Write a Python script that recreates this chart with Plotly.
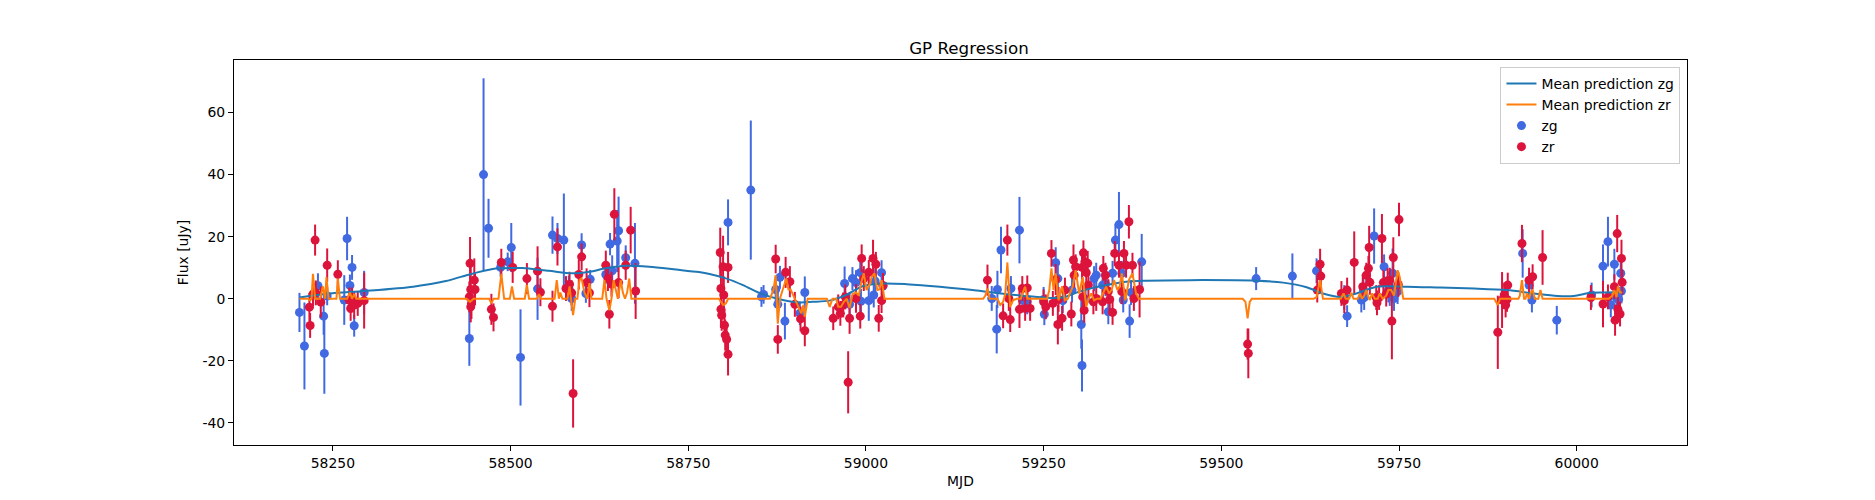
import plotly.graph_objects as go

# ---- observed data: zg band ----
zg_mjd = [58203, 58210, 58229, 58237, 58238, 58242, 58266, 58270, 58274, 58277, 58280, 58294,
          58442, 58462, 58469, 58486, 58496, 58501, 58514, 58538, 58559, 58566, 58575, 58582, 58586,
          58600, 58606, 58612, 58634, 58640, 58643, 58650, 58652, 58662, 58675,
          58806, 58838, 58853, 58856, 58873, 58876, 58879, 58886, 58907, 58914, 58970, 58977, 58981,
          58986, 58992, 58993, 59004, 59011, 59013, 59022, 59024,
          59177, 59184, 59185, 59190, 59204, 59216, 59220, 59227, 59250, 59251, 59267, 59270, 59277,
          59290, 59303, 59304, 59309, 59321, 59324, 59333, 59337, 59341, 59347, 59351, 59356, 59360,
          59362, 59371, 59373, 59388,
          59549, 59600, 59634, 59673, 59677, 59697, 59700, 59701, 59715, 59729, 59735, 59737, 59741,
          59743, 59748,
          59924, 59933, 59937, 59972, 60021, 60037, 60044, 60048, 60053, 60056, 60059, 60062, 60063]
zg_flux = [-4.4, -15.2, 4.2, -5.6, -17.6, 0.9, -0.4, 19.4, 4.3, 10.1, -8.7, 2.0,
           -12.8, 40.0, 22.7, 10.1, 11.9, 16.5, -18.9, 3.2, 20.5, 19.4, 18.9, 3.5, 0.1,
           17.3, 1.7, 6.3, 7.8, 17.6, 9.0, 18.6, 21.9, 13.2, 11.4,
           24.6, 35.0, 0.6, 1.4, 3.0, -1.8, 6.9, -7.2, -4.7, 2.0, 4.9, -1.8, 6.5,
           5.2, 8.4, -0.8, -0.6, 1.2, 5.7, 8.4, 4.1,
           0.1, -9.8, 3.0, 15.7, 3.3, 22.1, -0.4, -1.0, -0.2, -5.0, 11.6, 6.5, -0.6,
           2.8, -8.3, -21.5, -0.2, 6.5, 7.6, 4.4, 4.9, -4.2, 8.2, 18.9, 23.9, 8.2,
           -0.4, -7.2, 2.0, 11.9,
           6.5, 7.3, 9.0, 0.4, -5.6, -0.4, 2.8, 0.4, 20.2, 10.3, 2.8, 1.7, 8.2,
           0.1, 2.3,
           14.6, 4.4, -0.4, -6.9, 1.2, 10.5, 18.4, -2.0, 11.1, 0.1, -0.2, 8.2, 2.5]
zg_err = [6.3, 14, 4, 6, 13, 3, 8, 7, 3.5, 4, 3.5, 7,
          8.8, 31, 9.5, 3, 3, 7.9, 15.5, 10, 6, 5, 15, 4, 4,
          3.8, 3, 3, 3, 3.6, 5, 10, 11, 4, 13,
          7.4, 22.4, 3.2, 3, 4, 4.6, 3.7, 5.9, 3.8, 5.2, 5.5, 4, 3.7,
          4, 4, 4, 6.5, 4, 4, 4, 3,
          4, 7.8, 6, 7.5, 4, 10.7, 4, 4, 4, 3.5, 5, 4, 4,
          4, 7.8, 8.4, 4, 4, 4, 4, 4, 4, 4, 5, 10.5, 4,
          4, 5.4, 4, 9,
          3.7, 7.3, 4, 4, 3.5, 4, 4, 4, 8.9, 4, 4, 4, 8,
          4, 4,
          7.8, 4, 4, 4.6, 4, 7, 8, 4, 5, 4, 4, 4, 4]

# ---- observed data: zr band ----
zr_mjd = [58217, 58218, 58222, 58225, 58226, 58233, 58242, 58257, 58273, 58275, 58277, 58280, 58285, 58294,
          58443, 58444, 58442, 58445, 58444, 58449, 58450, 58473, 58476, 58487, 58503, 58523, 58538,
          58542, 58559, 58566, 58578, 58583, 58586, 58588, 58596, 58600, 58607, 58611, 58634, 58637,
          58639, 58642, 58646, 58652, 58662, 58669, 58676,
          58795, 58799, 58806, 58796, 58800, 58796, 58797, 58801, 58802, 58804, 58806,
          58873, 58876, 58887, 58893, 58900, 58908, 58914, 58954, 58961, 58964, 58968, 58971, 58975,
          58977, 58986, 58992, 58994, 58997, 59004, 59010, 59014, 59018, 59022, 59024,
          59171, 59193, 59199, 59201, 59203, 59216, 59220, 59224, 59227, 59231, 59250, 59253, 59261,
          59263, 59267, 59270, 59271, 59276, 59280, 59289, 59292, 59293, 59295, 59304, 59306, 59308,
          59310, 59312, 59305, 59307, 59313, 59320, 59324, 59333, 59334, 59337, 59341, 59343, 59347,
          59350, 59356, 59360, 59363, 59366, 59370, 59375, 59377, 59385,
          59537, 59538, 59635, 59639, 59640, 59669, 59673, 59677, 59687, 59699, 59704, 59708, 59707,
          59709, 59718, 59719, 59722, 59726, 59728, 59732, 59734, 59737, 59740, 59742, 59749, 59750,
          59889, 59895, 59898, 59900, 59902, 59903, 59923, 59933, 59938, 59952, 60020, 60037, 60044,
          60053, 60054, 60057, 60058, 60061, 60063, 60064]
zr_flux = [-2.7, -8.6, 1.5, 18.9, 1.9, -1.1, 10.8, 7.9, -0.4, -3.1, -0.4, -2.0, -1.5, -0.6,
           11.4, 3.0, 0.6, -1.5, -2.6, 6.0, 3.0, -3.4, -6.0, 11.7, 10.1, 6.5, 8.9,
           2.1, -2.4, 16.7, 3.3, 4.7, 1.9, -30.5, 7.8, 13.5, 5.2, 1.9, 10.8, 6.5,
           -5.0, 4.7, 27.2, 5.2, 10.8, 22.1, 2.5,
           14.9, 10.3, 10.1, 3.3, 1.2, -3.4, -5.3, -8.5, -11.7, -13.1, -17.9,
           12.8, -13.1, 8.5, 5.5, -1.8, -6.5, -10.3, -6.3, -2.6, -4.7, -2.0, 0.6, -26.9,
           -6.3, 0.1, -5.6, 13.0, 6.5, 8.5, 13.0, 11.1, -6.3, -0.6, 4.3,
           6.0, -5.5, 18.9, 0.1, -6.7, -3.4, 3.3, -3.1, 3.5, -3.1, -1.0, -2.6, 14.6,
           -1.5, 6.2, -8.3, -0.2, -6.3, 2.8, -4.9, 12.5, 7.6, 10.3, 10.1, 14.8, 11.9,
           8.4, 11.4, 0.6, -3.7, 4.4, -1.0, 0.1, -1.0, 9.8, 7.6, 2.3, -0.2, -4.4,
           14.6, 10.8, 2.3, 14.6, 10.8, 24.8, 10.8, 0.1, 3.0,
           -14.6, -17.6, 2.8, 11.1, 7.3, 1.7, -0.6, 2.8, 11.7, 3.9, 7.6, 16.5, 9.8,
           5.3, 0.4, -1.3, 0.4, 19.4, 5.2, 1.5, 5.8, 6.0, -7.2, 13.3, 4.6, 25.5,
           -10.8, -0.4, 1.2, -2.0, -0.2, 4.4, 17.8, 6.0, 7.1, 13.3, 0.4, -1.7, 0.6,
           3.9, -6.9, 21.0, -3.4, -4.9, 13.0, 5.3]
zr_err = [4.5, 4, 4, 5, 4, 5, 5.4, 4.5, 4, 4, 4, 4.5, 4, 9,
          8.5, 8, 5, 5, 5, 7, 5, 5, 4.5, 4.4, 5, 5, 8,
          4.5, 5, 6, 4, 4, 4, 11, 4.8, 4.3, 4.6, 4.6, 4.7, 4,
          4.6, 4, 8.4, 5, 4.7, 7.5, 9,
          8, 10, 5, 6, 6, 6, 5, 5, 5, 5, 6.8,
          4.6, 4.6, 5, 5, 4, 4, 5, 3.8, 4, 4, 4, 4, 10,
          5, 4.6, 4, 4.5, 4, 4, 6, 4, 4.3, 4, 4,
          5, 4, 5, 4, 4, 6, 4, 4, 4, 4, 4, 4, 4.3,
          4, 5, 6.4, 4, 4, 4, 4, 5, 4, 4, 4, 4, 4,
          4, 4, 4, 4, 4, 4, 4, 4, 4, 4, 4, 4, 4,
          4, 4, 4, 4, 4, 5.4, 4, 4, 9,
          5, 8, 4, 5, 4, 4, 4, 4, 10, 4, 4, 7, 4,
          4, 4, 4, 4, 7.9, 4, 4, 4, 4, 12.3, 6.5, 4, 5.4,
          11.8, 9, 4, 4, 4, 4, 6, 4, 4, 8.8, 4, 7.5, 4,
          4, 5, 6, 4, 4, 6, 4]

# ---- GP mean predictions ----
pred_zg_x = [58203, 58245, 58294, 58363, 58409, 58438, 58475, 58503, 58517, 58554, 58587, 58611, 58634,
             58662, 58695, 58733, 58765, 58780, 58804, 58827, 58855, 58883, 58907, 58925, 58949, 58972,
             58996, 59024, 59057, 59104, 59150, 59178, 59220, 59250, 59277, 59300, 59338, 59366, 59394,
             59455, 59550, 59587, 59620, 59643, 59667, 59690, 59719, 59761, 59808, 59856, 59902, 59940,
             59973, 59996, 60020, 60064]
pred_zg_y = [0.4, 1.7, 2.5, 3.9, 5.7, 7.6, 9.6, 9.9, 9.9, 9.0, 8.2, 8.7, 9.8,
             10.6, 10.3, 9.4, 8.6, 8.0, 6.5, 4.4, 1.4, -0.4, -1.2, -1.0, -0.6, 1.2,
             4.1, 4.9, 4.7, 3.9, 2.8, 2.0, 1.0, 0.4, 0.4, 2.3, 4.4, 5.5, 5.8,
             6.0, 5.8, 5.2, 3.7, 1.7, 0.6, 1.7, 3.9, 3.9, 3.6, 3.3, 2.8, 1.7,
             0.9, 0.9, 1.9, 2.1]

pred_zr_x = [58203, 58215, 58218, 58220, 58222, 58225, 58232, 58236, 58239, 58241, 58244, 58255, 58257,
             58260, 58270, 58274, 58277, 58280, 58283, 58438, 58443, 58448, 58470, 58473, 58476, 58483,
             58487, 58491, 58499, 58502, 58505, 58520, 58523, 58526, 58537, 58540, 58543, 58562, 58565,
             58568, 58570, 58573, 58580, 58583, 58585, 58588, 58591, 58594, 58597, 58600, 58604, 58608,
             58611, 58614, 58629, 58632, 58635, 58639, 58642, 58645, 58648, 58651, 58655, 58658, 58661,
             58664, 58667, 58670, 58676, 58793, 58799, 58803, 58806, 58865, 58870, 58873, 58876, 58879,
             58883, 58888, 58891, 58894, 58897, 58900, 58903, 58909, 58912, 58914, 58918, 58945, 58949,
             58953, 58958, 58961, 58965, 58969, 58973, 58977, 58981, 58986, 58990, 58993, 58997, 59001,
             59006, 59008, 59012, 59016, 59019, 59022, 59026, 59165, 59168, 59171, 59174, 59185, 59189,
             59193, 59196, 59199, 59203, 59207, 59212, 59218, 59220, 59224, 59227, 59255, 59258, 59261,
             59264, 59267, 59271, 59274, 59276, 59280, 59284, 59287, 59291, 59295, 59300, 59305, 59310,
             59313, 59317, 59321, 59325, 59330, 59333, 59338, 59342, 59346, 59349, 59354, 59357, 59360,
             59365, 59368, 59370, 59375, 59380, 59384, 59530, 59534, 59537, 59540, 59543, 59630, 59634,
             59636, 59639, 59643, 59668, 59672, 59675, 59680, 59683, 59686, 59692, 59695, 59698, 59701,
             59704, 59707, 59709, 59712, 59716, 59720, 59723, 59727, 59732, 59735, 59739, 59743, 59748,
             59751, 59756, 59884, 59889, 59892, 59918, 59920, 59923, 59926, 59928, 59930, 59932, 59933,
             59935, 59938, 59941, 59946, 59949, 59952, 60045, 60050, 60053, 60056, 60058, 60061, 60064]
pred_zr_y = [0, 0, -0.5, 0, 8, 0, 0, 4, 0, 7, 0, 0, 6.5,
             0, 0, 2, 0, 1.5, 0, 0, -1, 0, 0, -1.5, 0, 0,
             8, 0, 0, 4, 0, 0, 4.5, 0, 0, 1.5, 0, 0, 6,
             0, 2, 0, 0, 4, 0, -5.3, 0, 0, 6, 6.5, 2, 0,
             5, 0, 0, 6, 0, -3.7, 0, 6, 3, 0, 6, 2, 0,
             2, 6.5, 0, 0, 0, -2, -1.5, 0, 0, 3, 7.6, -8, 0,
             3, 6.5, 3, 3, 1.5, 0, -1.5, -4.7, -2, -5.8, 0, 0, -2.6,
             0, 0, -2.6, -2.6, -1, 0, -3, 1.5, 2, 1, 4.9, 8.2, 2.8,
             5, 7, 8.2, 2.8, 3, 6, 0, 0, 1, 3.3, 0, 0, -2,
             -1, 1.5, 11.7, -2.6, -0.5, 0, 0, 1.7, 3.9, 0, 0, 2.8, 9.8,
             2.8, 8.2, -0.5, 2, 4, -0.5, 0, 1.7, 3.9, 9.2, 1.7, 7, -2.6,
             0, 1.7, -0.5, 0, 0, 1.7, 3.9, 1.7, 3, 6, 2.8, 4, 8.2,
             -0.5, 3, 6, 8.2, 1.7, 0, 0, -1, -6.3, -1, 0, 0, 0.5,
             2.8, 6, 0, 0, 1.7, 0, 0, 1.9, 0, 0, 1.7, 0, 1,
             2.8, 0.5, -0.4, 1.7, 0, 0, 1.7, 0, 1, 2.8, 2.8, 1, 9.2,
             7, 0, 0, -2, 0, 0, 1, 6, 0, 0, 1.7, 0, 0,
             1.7, 3, 0, 0, 2.8, 0, 0, 1, 2.8, 0.5, 4, 2, 2]

x_ticks = [58250, 58500, 58750, 59000, 59250, 59500, 59750, 60000]
y_ticks = [-40, -20, 0, 20, 40, 60]

FONT = "DejaVu Sans"
fig = go.Figure()

fig.add_trace(go.Scatter(
    x=zg_mjd, y=zg_flux, mode="markers", name="zg", legendrank=3,
    marker=dict(color="#4169e1", size=9, line=dict(width=0)),
    error_y=dict(type="data", array=zg_err, visible=True, color="#4169e1", thickness=2, width=0)))
fig.add_trace(go.Scatter(
    x=zr_mjd, y=zr_flux, mode="markers", name="zr", legendrank=4,
    marker=dict(color="#dc143c", size=9, line=dict(width=0)),
    error_y=dict(type="data", array=zr_err, visible=True, color="#dc143c", thickness=2, width=0)))
fig.add_trace(go.Scatter(
    x=pred_zg_x, y=pred_zg_y, mode="lines", name="Mean prediction zg", legendrank=1,
    line=dict(color="#1f77b4", width=2, shape="spline", smoothing=0.8)))
fig.add_trace(go.Scatter(
    x=pred_zr_x, y=pred_zr_y, mode="lines", name="Mean prediction zr", legendrank=2,
    line=dict(color="#ff7f0e", width=2)))

axis_common = dict(showline=True, linecolor="black", linewidth=1, mirror=True,
                   ticks="outside", ticklen=5, tickwidth=1, tickcolor="black",
                   showgrid=False, zeroline=False,
                   tickfont=dict(family=FONT, size=13.9, color="black"))

fig.update_layout(
    width=1875, height=500,
    margin=dict(l=226, r=196, t=52, b=63),
    paper_bgcolor="white", plot_bgcolor="white",
    font=dict(family=FONT, size=13.9, color="black"),
    title=dict(text="GP Regression", x=0.5125, xanchor="center", y=0.92, yanchor="middle",
               font=dict(family=FONT, size=16.7, color="black")),
    xaxis=dict(range=[58110.9, 60155.2], tickvals=x_ticks,
               ticktext=[str(v) for v in x_ticks],
               title=dict(text="MJD", standoff=6, font=dict(family=FONT, size=13.9)),
               **axis_common),
    yaxis=dict(range=[-47.1, 76.9], tickvals=y_ticks,
               ticktext=[str(v) for v in y_ticks],
               title=dict(text="Flux [uJy]", standoff=10, font=dict(family=FONT, size=13.9)),
               **axis_common),
    legend=dict(x=0.9955, xanchor="right", y=0.982, yanchor="top",
                bgcolor="rgba(255,255,255,0.8)", bordercolor="#cccccc", borderwidth=1,
                font=dict(family=FONT, size=13.9, color="black"), tracegroupgap=0),
    showlegend=True,
)

fig.write_html("out.html")
